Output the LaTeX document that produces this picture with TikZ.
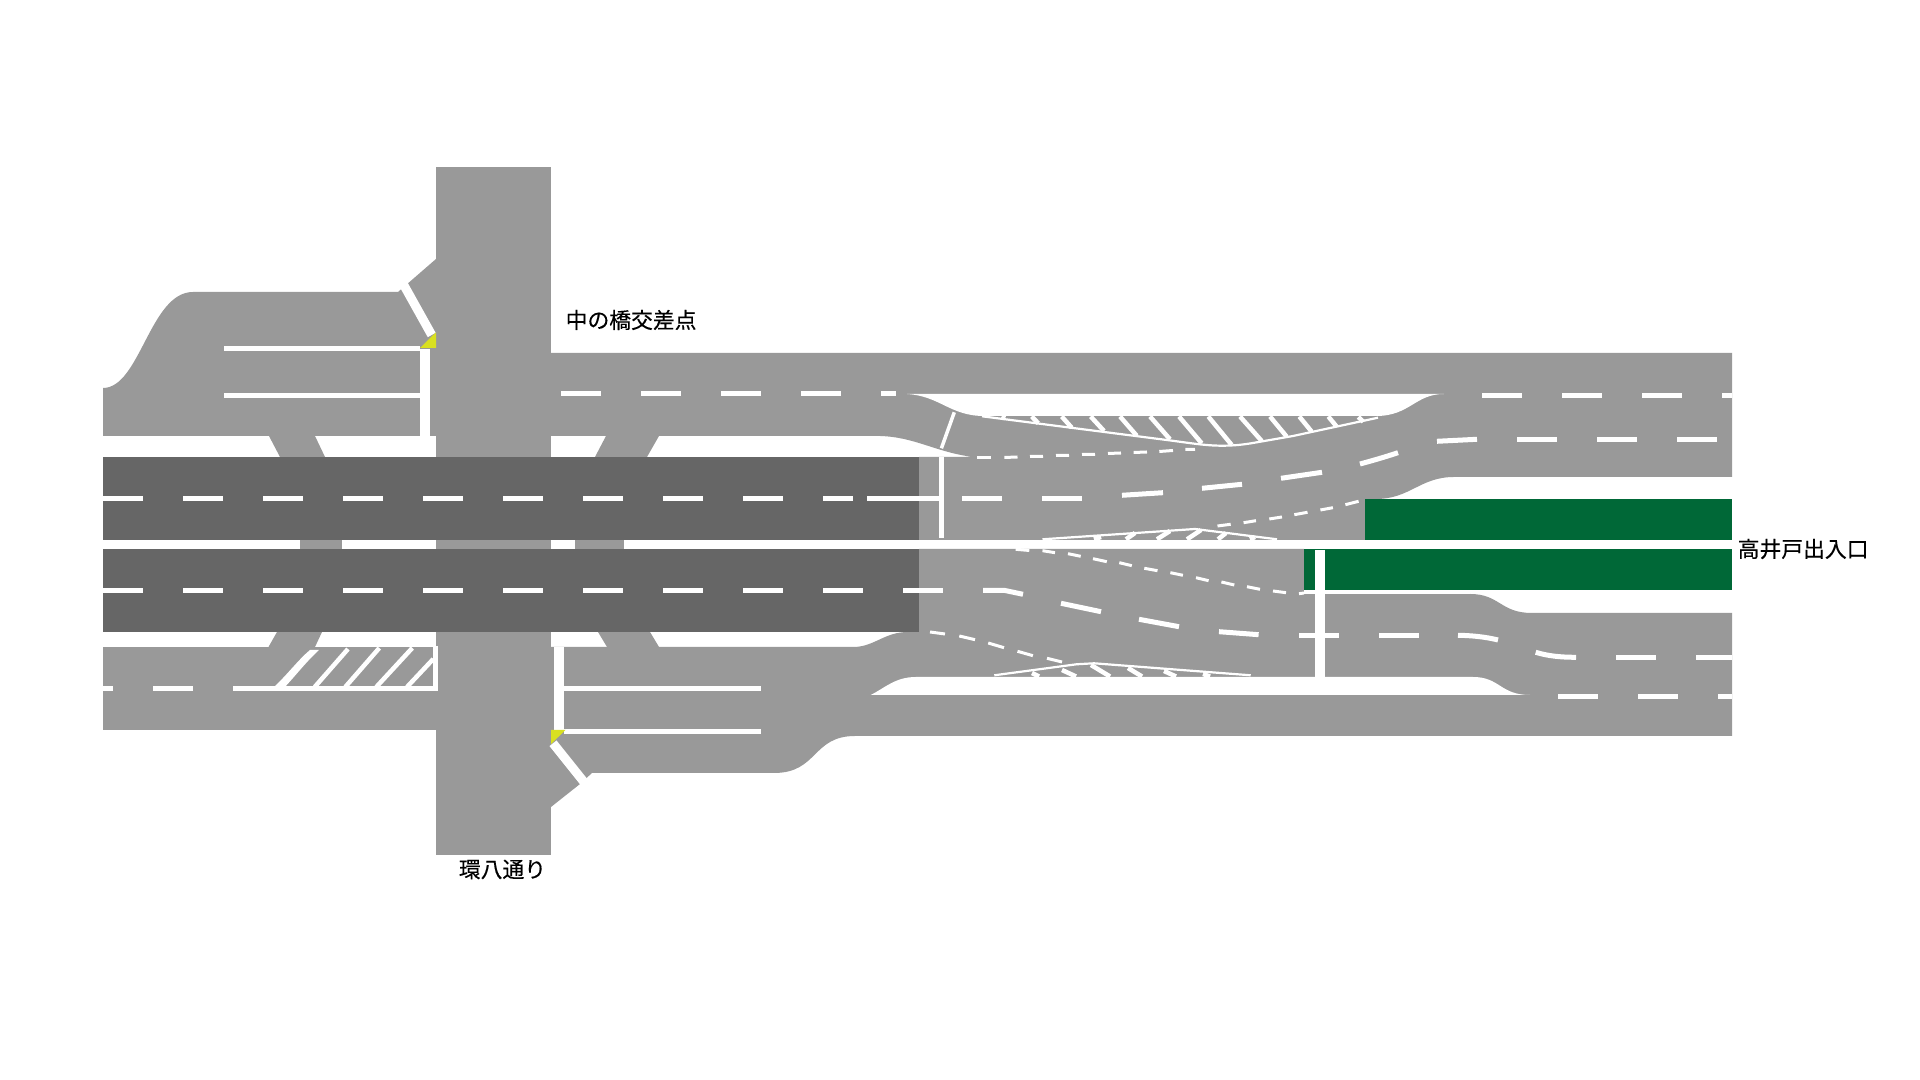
\documentclass[tikz,border=0pt]{standalone}
\usepackage{fontspec}
\newfontfamily\jpfont[FakeBold=0.35]{Noto Sans CJK JP}
\definecolor{roadL}{HTML}{999999}
\definecolor{roadD}{HTML}{666666}
\definecolor{roadG}{HTML}{006837}
\definecolor{signal}{HTML}{D9E021}
\tikzset{
  road/.style={fill=roadL,draw=none},
  gapw/.style={fill=white,draw=none},
  lane/.style={draw=white,line width=5*0.2845pt},
  thinlane/.style={draw=white,line width=3*0.2845pt},
  hatchline/.style={draw=white,line width=2.2*0.2845pt},
  hatchbar/.style={draw=white,line width=4.5*0.2845pt},
  hatchwide/.style={draw=white,line width=4.5*0.2845pt},
  stopline/.style={draw=white,line width=9*0.2845pt},
  label/.style={font=\jpfont\fontsize{6.2pt}{7pt}\selectfont,text=black,inner sep=0pt}
}
\begin{document}
\begin{tikzpicture}[x=0.01cm,y=-0.01cm]
\useasboundingbox (0,0) rectangle (1920,1080);
\fill[white] (0,0) rectangle (1920,1080);
% ---- roads
\path[road] (436,167) rectangle (551,855);
\path[road] (103,388) .. controls (140,388) and (150,292) .. (193,292) -- (398,292) -- (436,259) -- (436,436) -- (103,436) -- cycle;
\path[road] (551,353) -- (1732,353) -- (1732,477) -- (1454,477) .. controls (1420,477) and (1410,499) .. (1376,499) -- (1365,499) -- (1365,540) -- (919,540) -- (919,457) -- (973,457) .. controls (935,452) and (915,437) .. (880,436) -- (551,436) -- cycle;
\path[road] (551,647) -- (855,647) .. controls (875,646) and (885,632) .. (908,632) -- (919,632) -- (919,549) -- (1304,549) -- (1304,594) -- (1470,594) .. controls (1500,594) and (1500,613) .. (1532,613) -- (1732,613) -- (1732,736) -- (855,736) .. controls (812,736) and (818,773) .. (774,773) -- (592,773) -- (580,784) -- (551,807) -- cycle;
\path[road] (103,647) rectangle (436,730);
% ramps under the elevated road
\path[road] (269,436) -- (315,436) -- (325,457) -- (280,457) -- cycle;
\path[road] (300,540) rectangle (341.5,549);
\path[road] (277,632) -- (322,632) -- (315,647) -- (268.5,647) -- cycle;
\path[road] (606,436) -- (659,436) -- (647,457) -- (595,457) -- cycle;
\path[road] (575,540) rectangle (624,549);
\path[road] (598,632) -- (650,632) -- (659,647) -- (607,647) -- cycle;
\path[road] (436,540) rectangle (551,549);
% gaps
\path[gapw] (907,394) .. controls (940,396) and (950,416) .. (984,416) -- (1376,416) .. controls (1410,416) and (1415,394) .. (1444,394) -- cycle;
\path[gapw] (870.6,695) .. controls (885,688) and (895,677) .. (916,677) -- (1473,677) .. controls (1500,677) and (1500,695) .. (1530,695) -- cycle;
% ---- elevated road and green strips
\fill[roadD] (103,457) rectangle (919,540);
\fill[roadD] (103,549) rectangle (919,632);
\fill[roadG] (1365,499) rectangle (1732,540);
\fill[roadG] (1304,549) rectangle (1732,590);
% ---- dashes, straight
\foreach \a in {103,183,...,743} \draw[lane] (\a,498.3) -- ++(40,0);
\draw[lane] (823,498.3) -- (853,498.3);
\draw[lane] (867,498.3) -- (941,498.3);
\foreach \a in {103,183,...,903} \draw[lane] (\a,590.3) -- ++(40,0);
\foreach \a in {561,641,721,801} \draw[lane] (\a,393.3) -- ++(40,0);
\draw[lane] (881,393.3) -- (896,393.3);
\foreach \a in {1482,1562,1642} \draw[lane] (\a,396) -- ++(40,0);
\draw[lane] (1722,396) -- (1732,396);
\draw[lane] (103,688.3) -- (113,688.3);
\foreach \a in {153,233} \draw[lane] (\a,688.3) -- ++(40,0);
\foreach \a in {1558,1638} \draw[lane] (\a,696.3) -- ++(40,0);
\draw[lane] (1718,696.3) -- (1732,696.3);
% ---- dashes along the upper lane change
\draw[lane] (962,498.3) -- (1002,498.3);
\draw[lane] (1042,498.3) -- (1082,498.3);
\draw[lane] (1122,495.3) -- (1163,492.7);
\draw[lane] (1202,488.3) -- (1242,484.3);
\draw[lane] (1281,478.3) -- (1322,472.3);
\draw[lane] (1360,464) .. controls (1373,460.5) and (1385,457) .. (1398,452.7);
\draw[lane] (1437,441.3) -- (1477,439.3);
\foreach \a in {1517,1597,1677} \draw[lane] (\a,439.2) -- ++(40,0);
% ---- dashes along the lower lane change
\draw[lane] (983,590.3) -- (1004,590.3) -- (1023,594.3);
\draw[lane] (1061,603.3) -- (1101,611.7);
\draw[lane] (1139,619.3) -- (1179,626.7);
\draw[lane] (1219,631.7) -- (1258.6,634.7);
\draw[lane] (1299,635.3) -- (1339,635.3);
\draw[lane] (1379,635.3) -- (1419,635.3);
\draw[lane] (1458,635.3) .. controls (1472,635.5) and (1486,637) .. (1498,640);
\draw[lane] (1535.7,652.3) .. controls (1548,656) and (1560,657.3) .. (1576,657.3);
\draw[lane] (1616,658) -- ++(40,0);
\draw[lane] (1696,657.3) -- (1732,657.3);
% ---- fine dashes
\foreach \xa/\ya/\xb/\yb in {977/457.5/990.7/457.5,1004.3/457.5/1017.5/457,1030/456.5/1043/456.3,1056/455.5/1069/455.3,1082/454.5/1095/454.3,1108/453.5/1121/453,1133.6/452.5/1147/452,1159.3/451.5/1173/450.5,1185.4/449.5/1195/449.3}
  \draw[thinlane] (\xa,\ya) -- (\xb,\yb);
\foreach \xa/\ya/\xb/\yb in {1217.5/526/1230.7/524.3,1243.6/522.7/1256/520.7,1269.3/519/1282/517,1294.3/514.7/1307.5/512.3,1320.4/510/1332.9/507.7,1345.4/504.7/1358.6/501.3}
  \draw[thinlane] (\xa,\ya) -- (\xb,\yb);
\foreach \xa/\ya/\xb/\yb in {1015.7/549.3/1029.3/550.5,1042.5/550.7/1055/552.7,1068/553.7/1080.7/556.3,1093/558.7/1106.8/561.7,1119.3/562.7/1131.8/565.7,1144.3/568.3/1157.5/570.7,1170.4/572.7/1182.9/575.3,1196/577.7/1208.6/580.7,1221.4/582/1234.3/585,1247/586.7/1260/589.3,1273/591/1286/592.7,1299/593.7/1304/593}
  \draw[thinlane] (\xa,\ya) -- (\xb,\yb);
\foreach \xa/\ya/\xb/\yb in {930/632/945/634,959.3/636/975/639.7,988.2/643/1004/647.7,1017.5/651.3/1032.9/655.7,1047/658.3/1062/662}
  \draw[thinlane] (\xa,\ya) -- (\xb,\yb);
% ---- upper hatch
\draw[hatchline] (982,416.3) -- (1073,428) -- (1166.7,440) .. controls (1190,443) and (1205,445.7) .. (1222,445.7) .. controls (1232,445.7) and (1240,445) .. (1250,443.5) -- (1293,436) -- (1378,417.7);
\foreach \xa/\ya/\xb/\yb in {1001.7/416.5/1005/418.3,1031.7/416.5/1038.3/423.3,1061.7/416.5/1071.7/427.7,1090.7/416.5/1104/431,1120/416.5/1136.7/435.7,1150/416.5/1170/439.3,1179/416.5/1201.7/443.3,1208.3/416.5/1231.7/445,1240/416.5/1261.7/441,1270/416.5/1286.7/436.7,1299.3/416.5/1311.7/431.7,1328.3/416.5/1336.7/426.7,1358.3/417/1363.3/421.7}
  \draw[hatchbar] (\xa,\ya) -- (\xb,\yb);
% ---- middle hatch
\draw[hatchline] (1042.5,539.3) -- (1195,529) -- (1277,539.3);
\foreach \xa/\ya/\xb/\yb in {1094/539.3/1101/537,1126/539.3/1135/533,1157/539.3/1170/531,1187/539.3/1201/530,1218/539.3/1226/533,1250/539.3/1255/537}
  \draw[hatchbar] (\xa,\ya) -- (\xb,\yb);
% ---- lower hatch
\draw[hatchline] (994.3,675.3) -- (1076.4,664.3) -- (1094,663.3) -- (1250.7,675.3);
\foreach \xa/\ya/\xb/\yb in {1032/673/1039/676.5,1062/670/1076/676.5,1091/665/1110/676.5,1128/668/1142/676.5,1164/671/1176/676.5,1203/674/1210/676.5}
  \draw[hatchbar] (\xa,\ya) -- (\xb,\yb);
% ---- left hatch
\draw[lane] (273,688.5) -- (438,688.5);
\draw[draw=white,line width=4.4*0.2845pt] (435.5,646) -- (435.5,691);
\fill[white] (273,688) .. controls (288,674) and (298,660) .. (310,650) -- (319,650) .. controls (306,662) and (297,674) .. (284,688) -- cycle;
\foreach \xa/\ya/\xb/\yb in {314.7/687/348/649,345.3/687/379.3/648,376.3/687/412.3/648,407/687/433.3/659}
  \draw[hatchwide] (\xa,\ya) -- (\xb,\yb);
% ---- solid markings and stop lines
\draw[lane] (224,348.3) -- (420,348.3);
\draw[lane] (224,395.3) -- (420,395.3);
\draw[draw=white,line width=9.5*0.2845pt] (424.8,349) -- (424.8,436);
\draw[lane] (564,688.3) -- (761,688.3);
\draw[lane] (564,732) -- (761,732);
\draw[draw=white,line width=10*0.2845pt] (559.4,647) -- (559.4,730);
\draw[stopline] (403.8,285) -- (431.7,335);
\draw[stopline] (553,743.3) -- (585,783.3);
\draw[draw=white,line width=3.5*0.2845pt] (954.3,412.3) -- (941.4,448.3);
\draw[lane] (941.5,457.3) -- (941.5,538.3);
\draw[draw=white,line width=10*0.2845pt] (1320,550) -- (1320,677);
\fill[white] (1304,590) rectangle (1470,594);
% ---- signals
\fill[signal] (436,332.3) -- (436,348) -- (420,348) -- cycle;
\fill[signal] (551,730) -- (565.5,730) -- (551,744) -- cycle;
% ---- labels
\node[label,anchor=west] (nakanohashi) at (565,320) {中の橋交差点};
\node[label,anchor=center] (kanpachi) at (502.5,869.5) {環八通り};
\node[label,anchor=west] (takaido) at (1737,549) {高井戸出入口};
\end{tikzpicture}
\end{document}
